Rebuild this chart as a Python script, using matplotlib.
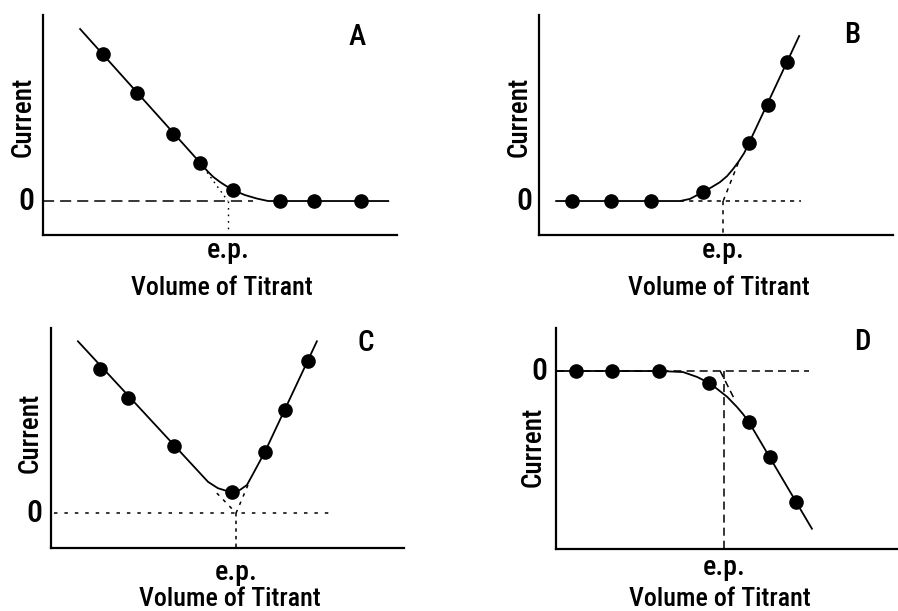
import matplotlib
matplotlib.use("Agg")
import matplotlib.pyplot as plt
from matplotlib import font_manager
from matplotlib.transforms import blended_transform_factory

# pick a narrow sans if there is one
names = {f.name for f in font_manager.fontManager.ttflist}
family = "DejaVu Sans"
for fam in ["Liberation Sans Narrow", "Roboto Condensed", "Open Sans Condensed"]:
    if fam in names:
        family = fam
        break
plt.rcParams["font.family"] = family
if family == "DejaVu Sans":
    plt.rcParams["font.stretch"] = "condensed"
plt.rcParams["font.weight"] = "medium"
plt.rcParams["lines.scale_dashes"] = False

# ---- panel A : current falls to zero
vol_a = [1.71, 2.69, 3.71, 4.49, 5.43, 6.77, 7.74, 9.09]
cur_a = [4.2, 3.09, 1.91, 1.09, 0.31, 0, 0, 0]
curve_vol_a = [1.06, 4.49, 4.69, 4.86, 5.06, 5.23, 5.43, 5.77, 6.11, 6.43, 9.86]
curve_cur_a = [4.91, 1.09, 0.86, 0.69, 0.54, 0.43, 0.31, 0.17, 0.07, 0.0, 0.0]
ep_a = 5.28
ext_vol_a = [4.49, 5.28]
ext_cur_a = [1.09, 0]
zero_vol_a = [0.0, 6.0]

# ---- panel B : current rises after e.p.
vol_b = [0.94, 2.06, 3.2, 4.69, 6.0, 6.54, 7.09]
cur_b = [0, 0, 0, 0.26, 1.66, 2.74, 3.97]
curve_vol_b = [0.49, 4.03, 4.31, 4.69, 4.94, 5.17, 5.37, 5.54, 5.71, 5.86, 6.0, 7.43]
curve_cur_b = [0, 0, 0.06, 0.26, 0.4, 0.54, 0.71, 0.91, 1.14, 1.37, 1.66, 4.71]
ep_b = 5.26
ext_vol_b = [5.69, 5.26]
ext_cur_b = [1.09, 0]
zero_vol_b = [4.03, 7.49]

# ---- panel C : V shape
vol_c = [1.4, 2.2, 3.51, 5.17, 6.11, 6.69, 7.34]
cur_c = [4.11, 3.29, 1.91, 0.6, 1.74, 2.94, 4.34]
curve_vol_c = [0.77, 4.49, 4.77, 5.03, 5.2, 5.4, 5.6, 5.77, 6.11, 7.6]
curve_cur_c = [4.91, 0.89, 0.71, 0.63, 0.6, 0.66, 0.8, 1.11, 1.74, 4.91]
ep_c = 5.29
ext_left_vol_c = [4.74, 5.29]
ext_left_cur_c = [0.57, 0]
ext_right_vol_c = [5.63, 5.29]
ext_right_cur_c = [0.8, 0]
zero_vol_c = [0.1, 8.11]

# ---- panel D : current falls below zero
vol_d = [0.57, 1.6, 2.94, 4.37, 5.51, 6.11, 6.86]
cur_d = [0, 0, 0, -0.34, -1.46, -2.46, -3.74]
curve_vol_d = [0.0, 2.97, 3.63, 4.03, 4.37, 4.6, 4.89, 5.17, 5.34, 5.51, 7.31]
curve_cur_d = [0, 0, -0.03, -0.17, -0.34, -0.51, -0.74, -1.03, -1.23, -1.46, -4.51]
ep_d = 4.8
ext_vol_d = [4.69, 5.11]
ext_cur_d = [0, -0.83]
zero_vol_d = [0.0, 7.23]

fig = plt.figure(figsize=(8.98, 6.11), dpi=100)
W, H = 898.0, 611.0


def make_axes(left, top, right, bottom, xlim, ylim):
    ax = fig.add_axes([left / W, 1 - bottom / H, (right - left) / W, (bottom - top) / H])
    ax.set_xlim(*xlim)
    ax.set_ylim(*ylim)
    for s in ["top", "right"]:
        ax.spines[s].set_visible(False)
    for s in ["left", "bottom"]:
        ax.spines[s].set_linewidth(1.6)
    ax.set_xticks([])
    ax.set_yticks([])
    ax.patch.set_alpha(0)
    return ax


def labels(ax, ep, letter, zero_x, ep_y, vol_pos, cur_pos, letter_pos):
    blend_x = blended_transform_factory(ax.transData, ax.transAxes)
    blend_y = blended_transform_factory(ax.transAxes, ax.transData)
    ax.text(zero_x, 0, "0", transform=blend_y, ha="right", va="center", fontsize=23)
    ax.text(ep, ep_y, "e.p.", transform=blend_x, ha="center", va="baseline", fontsize=20)
    ax.text(vol_pos[0], vol_pos[1], "Volume of Titrant", transform=ax.transAxes,
            ha="center", va="baseline", fontsize=18.7)
    ax.text(cur_pos[0], cur_pos[1], "Current", transform=ax.transAxes, rotation=90,
            ha="center", va="center", fontsize=19.5)
    ax.text(letter_pos[0], letter_pos[1], letter, transform=ax.transAxes,
            ha="center", va="center", fontsize=21)


lw = 1.3
ms = 9.5

# A
ax = make_axes(43, 15, 397, 235, (0, 10.11), (-0.97, 5.31))
ax.plot(zero_vol_a, [0, 0], color="k", lw=1.1, linestyle=(0, (8, 4.3)))
ax.plot(ext_vol_a, ext_cur_a, color="k", lw=1.0, linestyle=(0, (1.2, 3.0)))
ax.plot([ep_a, ep_a], [0, -0.97], color="k", lw=1.0, linestyle=(0, (1.2, 3.5)))
ax.plot(curve_vol_a, curve_cur_a, color="k", lw=lw)
ax.plot(vol_a, cur_a, "o", color="k", ms=ms)
labels(ax, ep_a, "A", -0.023, -0.105, (0.506, -0.273), (-0.056, 0.536), (0.887, 0.9))

# B
ax = make_axes(539, 15, 893, 235, (0, 10.11), (-0.97, 5.31))
ax.plot(zero_vol_b, [0, 0], color="k", lw=1.1, linestyle=(0, (3, 3.6)))
ax.plot(ext_vol_b, ext_cur_b, color="k", lw=1.1, linestyle=(0, (3, 3.6)))
ax.plot([ep_b, ep_b], [0, -0.9], color="k", lw=1.1, linestyle=(0, (3, 3.6)))
ax.plot(curve_vol_b, curve_cur_b, color="k", lw=lw)
ax.plot(vol_b, cur_b, "o", color="k", ms=ms)
labels(ax, ep_b, "B", -0.02, -0.105, (0.508, -0.273), (-0.056, 0.536), (0.884, 0.909))

# C
ax = make_axes(51, 328, 404, 548, (0, 10.09), (-1.0, 5.29))
ax.plot(zero_vol_c, [0, 0], color="k", lw=1.1, linestyle=(0, (2.5, 5)))
ax.plot(ext_left_vol_c, ext_left_cur_c, color="k", lw=1.1, linestyle=(0, (2.5, 4)))
ax.plot(ext_right_vol_c, ext_right_cur_c, color="k", lw=1.1, linestyle=(0, (2.5, 4)))
ax.plot([ep_c, ep_c], [0, -1.0], color="k", lw=1.1, linestyle=(0, (2.5, 3)))
ax.plot(curve_vol_c, curve_cur_c, color="k", lw=lw)
ax.plot(vol_c, cur_c, "o", color="k", ms=ms)
labels(ax, ep_c, "C", -0.025, -0.145, (0.507, -0.264), (-0.059, 0.523), (0.892, 0.934))

# D
ax = make_axes(556, 328, 897, 549, (0, 9.74), (-5.09, 1.23))
ax.plot(zero_vol_d, [0, 0], color="k", lw=1.1, linestyle=(0, (5.8, 3.6)))
ax.plot(ext_vol_d, ext_cur_d, color="k", lw=1.1, linestyle=(0, (5, 3)))
ax.plot([ep_d, ep_d], [0, -5.09], color="k", lw=1.1, linestyle=(0, (5.8, 3.6)))
ax.plot(curve_vol_d, curve_cur_d, color="k", lw=lw)
ax.plot(vol_d, cur_d, "o", color="k", ms=ms)
labels(ax, ep_d, "D", -0.026, -0.118, (0.481, -0.258), (-0.067, 0.462), (0.897, 0.937))

fig.savefig("out.png", dpi=100)
